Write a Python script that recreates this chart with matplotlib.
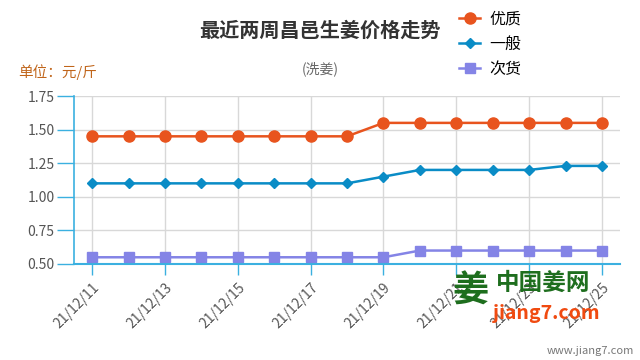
import matplotlib.pyplot as plt

plt.rcParams['font.family'] = ['Noto Sans CJK SC', 'DejaVu Sans']

dates = ["21/12/11", "21/12/12", "21/12/13", "21/12/14", "21/12/15", "21/12/16",
         "21/12/17", "21/12/18", "21/12/19", "21/12/20", "21/12/21", "21/12/22",
         "21/12/23", "21/12/24", "21/12/25"]
good = [1.45, 1.45, 1.45, 1.45, 1.45, 1.45, 1.45, 1.45, 1.55, 1.55, 1.55, 1.55, 1.55, 1.55, 1.55]
normal = [1.10, 1.10, 1.10, 1.10, 1.10, 1.10, 1.10, 1.10, 1.15, 1.20, 1.20, 1.20, 1.20, 1.23, 1.23]
poor = [0.55, 0.55, 0.55, 0.55, 0.55, 0.55, 0.55, 0.55, 0.55, 0.60, 0.60, 0.60, 0.60, 0.60, 0.60]
yticks = [0.50, 0.75, 1.00, 1.25, 1.50, 1.75]

fig = plt.figure(figsize=(6.4, 3.6), dpi=100)
ax = fig.add_axes([0.1156, 0.2667, 0.8534, 0.4666])

x = list(range(len(dates)))
ax.plot(x, good, color="#E8541E", lw=1.8, marker="o", ms=8, label="优质")
ax.plot(x, normal, color="#0A8CC6", lw=1.8, marker="D", ms=5, label="一般")
ax.plot(x, poor, color="#8484E6", lw=1.8, marker="s", ms=7.5, label="次货")

ax.set_xlim(-0.5, len(dates) - 0.5)
ax.set_ylim(0.5, 1.75)
ax.set_yticks(yticks)
ax.set_yticklabels(["%.2f" % v for v in yticks], color="#555555", fontsize=10)
ax.set_xticks(x[::2])
ax.set_xticklabels(dates[::2], rotation=45, ha="right", rotation_mode="anchor",
                   color="#555555", fontsize=10)

ax.grid(True, color="#d8d8d8", lw=1)
ax.set_axisbelow(True)
for s in ["top", "right"]:
    ax.spines[s].set_visible(False)
ax.spines["left"].set_color("#3BB0E0")
ax.spines["bottom"].set_color("#3BB0E0")
ax.spines["left"].set_linewidth(1.2)
ax.spines["bottom"].set_linewidth(1.5)
ax.tick_params(axis="y", colors="#3BB0E0", length=12, width=1, labelcolor="#555555", pad=2)
ax.tick_params(axis="x", colors="#3BB0E0", length=8, width=1, labelcolor="#555555", pad=4)

fig.text(0.5, 0.915, "最近两周昌邑生姜价格走势", ha="center", va="center",
         fontsize=14.5, fontweight="bold", color="#333333")
fig.text(0.5, 0.81, "(洗姜)", ha="center", va="center", fontsize=10, color="#666666")
fig.text(0.028, 0.80, "单位：元/斤", ha="left", va="center", fontsize=10.5, color="#C0651A")

fig.legend(loc="upper left", bbox_to_anchor=(0.695, 1.01), frameon=False,
           fontsize=11.5, handlelength=1.3, labelspacing=0.5, handletextpad=0.6)

# watermark
fig.text(0.775, 0.215, "中国姜网", ha="left", va="center", fontsize=17, color="#1E6E1E", fontweight="bold")
fig.text(0.735, 0.19, "姜", ha="center", va="center", fontsize=26, color="#1E6E1E", fontweight="bold")
fig.text(0.77, 0.13, "jiang7.com", ha="left", va="center", fontsize=14, color="#F04A10",
         fontweight="bold", style="italic")
fig.text(0.99, 0.025, "www.jiang7.com", ha="right", va="center", fontsize=8, color="#777777")

plt.savefig("out.png", dpi=100)
